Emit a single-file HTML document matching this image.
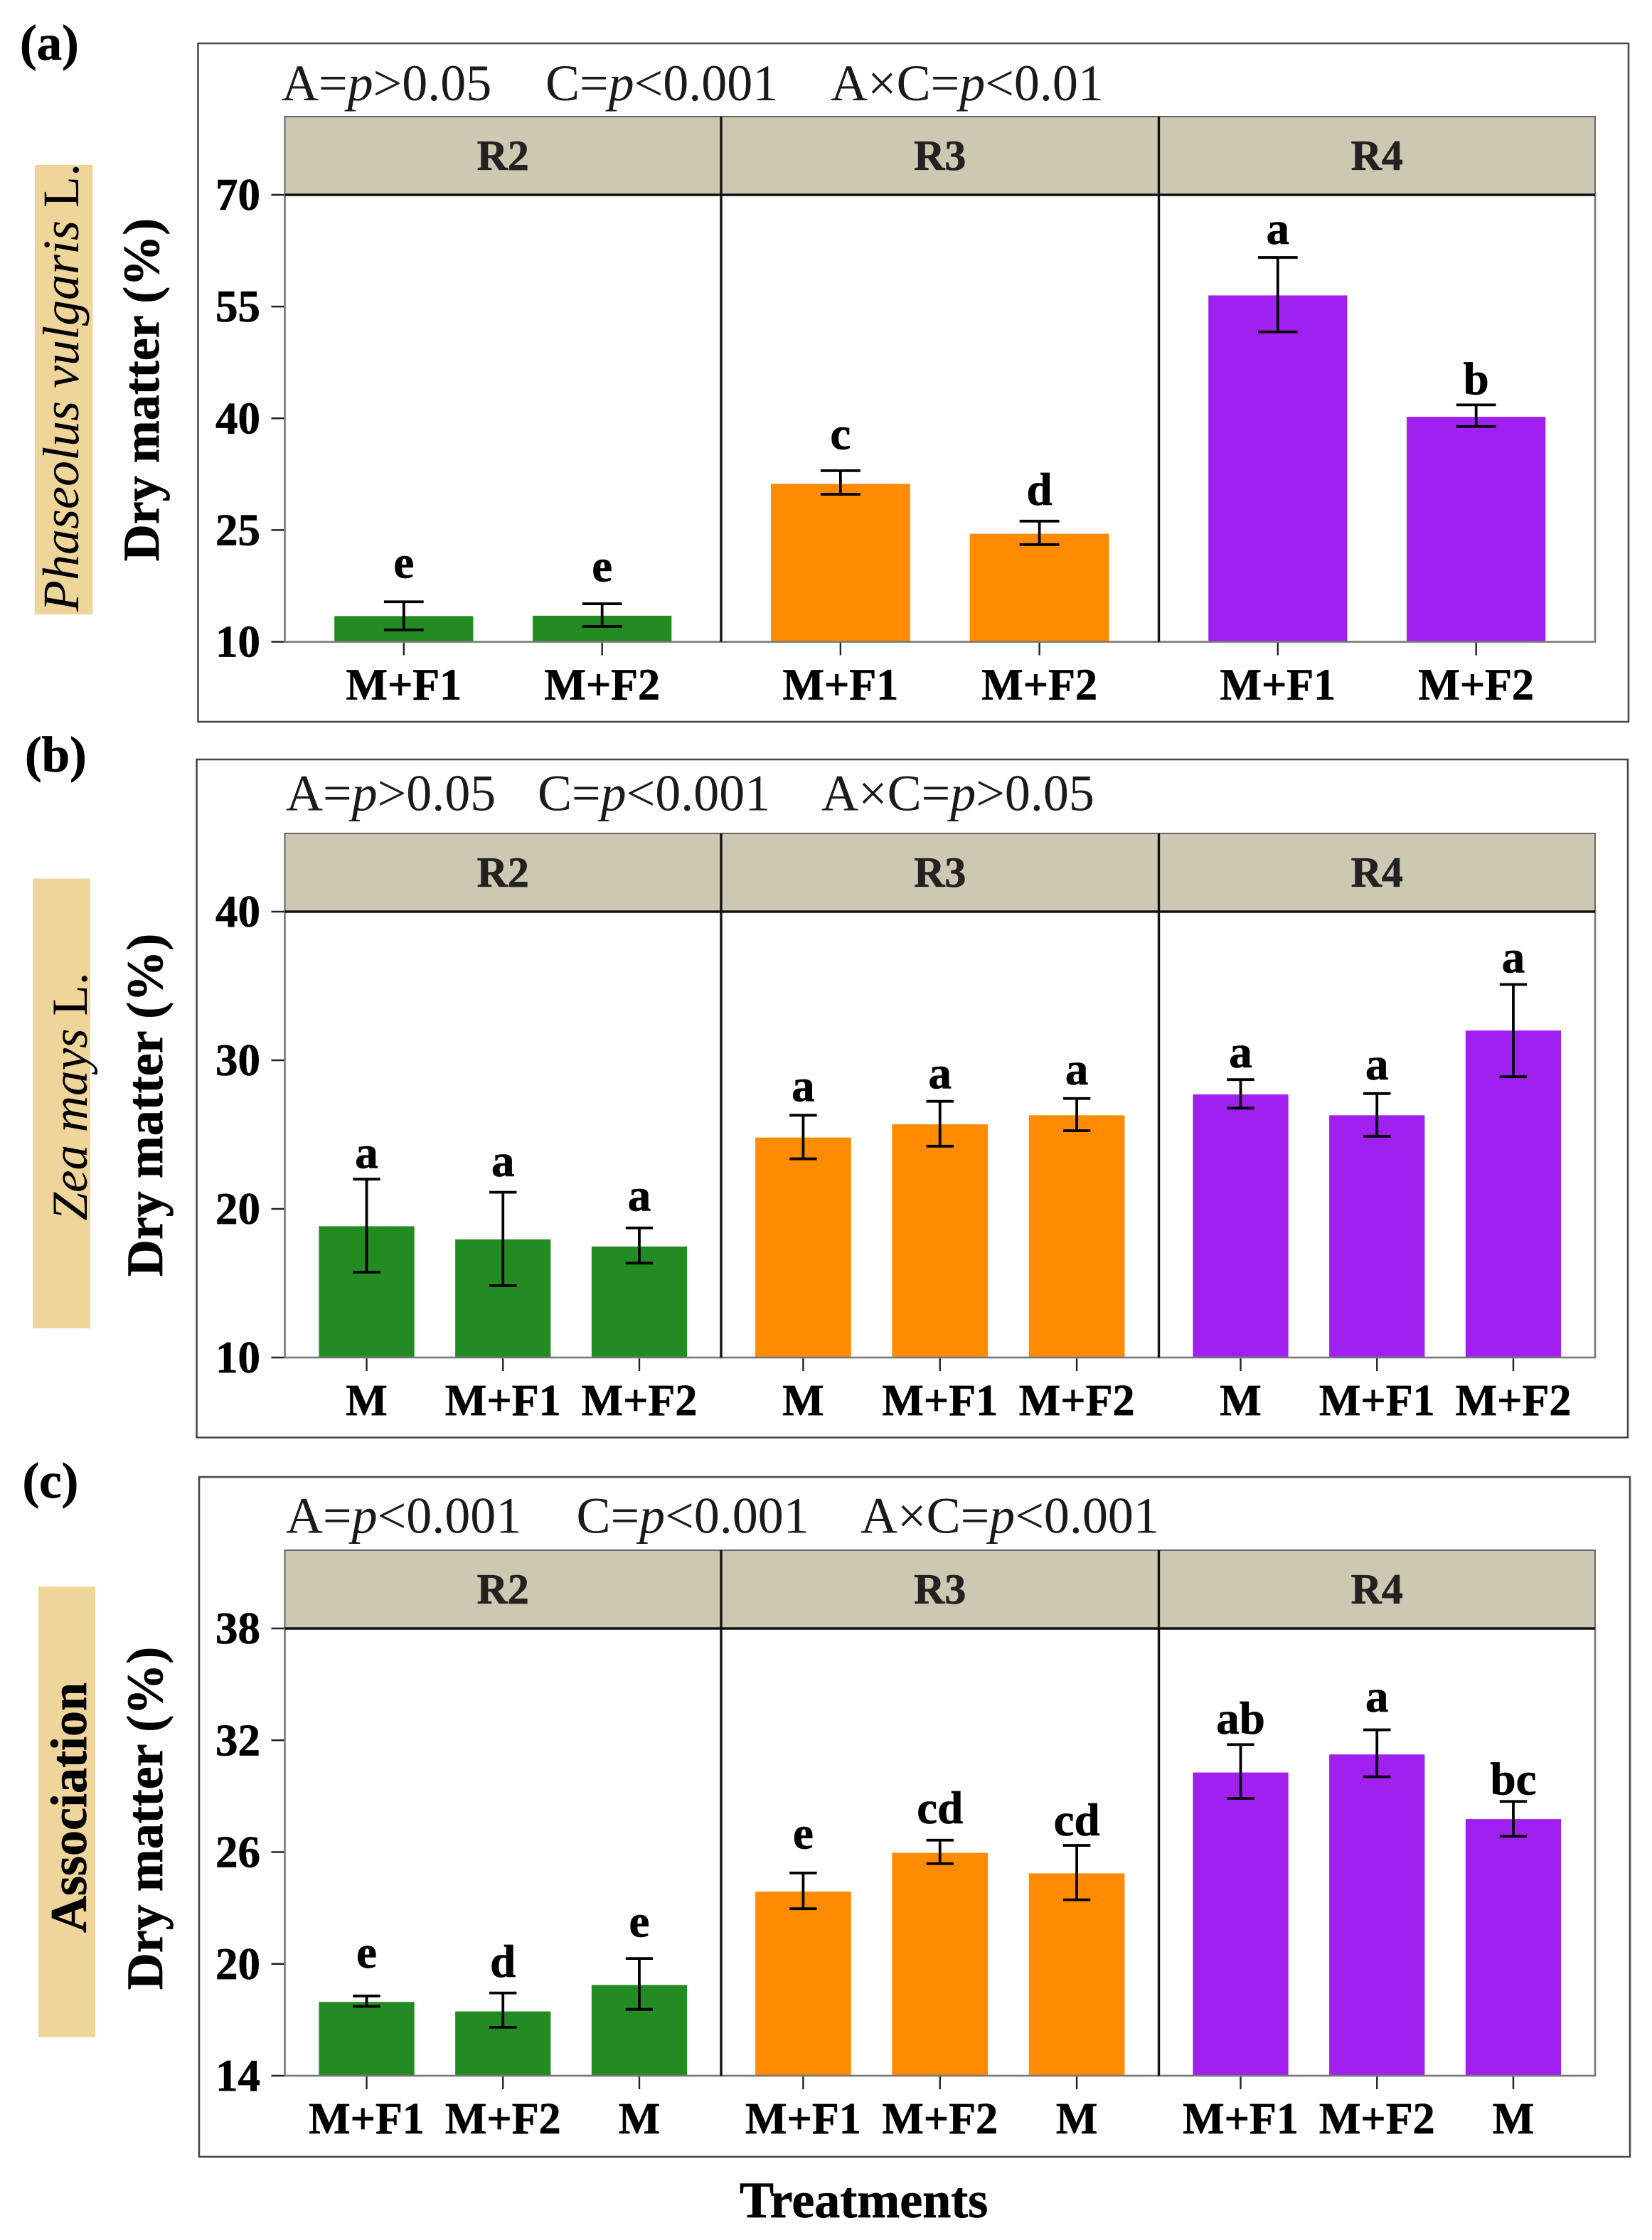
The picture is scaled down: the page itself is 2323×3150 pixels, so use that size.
<!DOCTYPE html>
<html lang="en">
<head>
<meta charset="utf-8">
<title>Dry matter by treatment and stage</title>
<style>
  html, body { margin: 0; padding: 0; background: #fff; }
  svg { display: block; font-family: "Liberation Serif", serif; }
  text { fill: #000; }
  .heavy { stroke: #000; stroke-width: 0.7px; }
  .stat { font-size: 72px; fill: #1a1a1a; }
  .axis-title { font-size: 72px; font-weight: bold; text-anchor: middle; }
  .panel-tag { font-size: 71px; font-weight: bold; }
</style>
</head>
<body>
<svg id="figure" xmlns="http://www.w3.org/2000/svg" width="2323" height="3150" viewBox="0 0 2323 3150">
  <rect x="0" y="0" width="2323" height="3150" fill="#ffffff"/>

  <!-- Panel (a) furniture -->
  <text class="panel-tag heavy" x="28" y="84">(a)</text>
  <rect x="278.5" y="61" width="2011.5" height="954" fill="none" stroke="#444" stroke-width="2.5"/>
  <text class="stat" x="396" y="141">A=<tspan font-style="italic">p</tspan>&gt;0.05</text>
  <text class="stat" x="767" y="141">C=<tspan font-style="italic">p</tspan>&lt;0.001</text>
  <text class="stat" x="1168" y="141">A×C=<tspan font-style="italic">p</tspan>&lt;0.01</text>
  <rect x="49" y="232" width="81.5" height="632" fill="#EFD59A"/>
  <text font-size="72" text-anchor="middle" transform="translate(110,545) rotate(-90)"><tspan font-style="italic">Phaseolus vulgaris</tspan> L.</text>
  <text class="axis-title heavy" transform="translate(223,548) rotate(-90)">Dry matter (%)</text>

  <!-- Panel (b) furniture -->
  <text class="panel-tag heavy" x="35" y="1085">(b)</text>
  <rect x="276.6" y="1068" width="2012.4" height="953.5" fill="none" stroke="#444" stroke-width="2.5"/>
  <text class="stat" x="402" y="1139.5">A=<tspan font-style="italic">p</tspan>&gt;0.05</text>
  <text class="stat" x="756" y="1139.5">C=<tspan font-style="italic">p</tspan>&lt;0.001</text>
  <text class="stat" x="1155" y="1139.5">A×C=<tspan font-style="italic">p</tspan>&gt;0.05</text>
  <rect x="46" y="1235.5" width="81" height="632.5" fill="#EFD59A"/>
  <text font-size="71" text-anchor="middle" transform="translate(122,1542) rotate(-90)"><tspan font-style="italic">Zea mays</tspan> L.</text>
  <text class="axis-title heavy" transform="translate(228,1554) rotate(-90)">Dry matter (%)</text>

  <!-- Panel (c) furniture -->
  <text class="panel-tag heavy" x="31.5" y="2106">(c)</text>
  <rect x="280" y="2077" width="2012" height="956" fill="none" stroke="#444" stroke-width="2.5"/>
  <text class="stat" x="402" y="2155.5">A=<tspan font-style="italic">p</tspan>&lt;0.001</text>
  <text class="stat" x="810.5" y="2155.5">C=<tspan font-style="italic">p</tspan>&lt;0.001</text>
  <text class="stat" x="1210" y="2155.5">A×C=<tspan font-style="italic">p</tspan>&lt;0.001</text>
  <rect x="54" y="2231" width="80" height="634" fill="#EFD59A"/>
  <text class="heavy" font-size="72" font-weight="bold" text-anchor="middle" transform="translate(121,2542) rotate(-90)">Association</text>
  <text class="axis-title heavy" transform="translate(228,2557) rotate(-90)">Dry matter (%)</text>

  <text class="heavy" font-size="72" font-weight="bold" x="1040" y="3118">Treatments</text>
  <g id="charts"></g>
</svg>

<script>
// ---- Chart data (facets: R2, R3, R4) ----
const facets = ['R2', 'R3', 'R4'];
const facetColors = ['#228B22', '#FF8C00', '#A020F0'];

// Panel (a) Phaseolus vulgaris
const categoriesA = ['M+F1', 'M+F2'];
const ticksA = [10, 25, 40, 55, 70];
const valuesA = [[13.45, 13.5], [31.2, 24.5], [56.5, 40.2]];
const errorHighA = [[15.37, 15.1], [32.97, 26.2], [61.6, 41.8]];
const errorLowA = [[11.6, 12.05], [29.8, 23.05], [51.6, 38.9]];
const lettersA = [['e', 'e'], ['c', 'd'], ['a', 'b']];
const letterLevelA = [[18.57, 18.12], [35.85, 28.36], [63.4, 43.2]];

// Panel (b) Zea mays
const categoriesB = ['M', 'M+F1', 'M+F2'];
const ticksB = [10, 20, 30, 40];
const valuesB = [[18.83, 17.95, 17.47], [24.8, 25.69, 26.3], [27.7, 26.3, 32.0]];
const errorHighB = [[22.0, 21.12, 18.72], [26.3, 27.24, 27.43], [28.7, 27.76, 35.1]];
const errorLowB = [[15.74, 14.84, 16.35], [23.37, 24.22, 25.26], [26.78, 24.89, 28.89]];
const lettersB = [['a', 'a', 'a'], ['a', 'a', 'a'], ['a', 'a', 'a']];
const letterLevelB = [[22.76, 22.2, 19.87], [27.24, 28.1, 28.37], [29.53, 28.7, 35.9]];

// Panel (c) Association
const categoriesC = ['M+F1', 'M+F2', 'M'];
const ticksC = [14, 20, 26, 32, 38];
const valuesC = [[17.96, 17.45, 18.87], [23.88, 25.96, 24.86], [30.27, 31.24, 27.77]];
const errorHighC = [[18.28, 18.44, 20.29], [24.88, 26.64, 26.36], [31.77, 32.56, 28.72]];
const errorLowC = [[17.72, 16.6, 17.56], [22.96, 25.38, 23.44], [28.88, 30.04, 26.85]];
const lettersC = [['e', 'd', 'e'], ['e', 'cd', 'cd'], ['ab', 'a', 'bc']];
const letterLevelC = [[19.8, 19.3, 21.46], [26.2, 27.54, 26.9], [32.35, 33.53, 29.1]];

const SVG_NS = 'http://www.w3.org/2000/svg';
const facetEdges = [400.5, 1014, 1629.5, 2243];

function node(parent, tag, attrs, text) {
  const el = document.createElementNS(SVG_NS, tag);
  for (const k in attrs) el.setAttribute(k, attrs[k]);
  if (text !== undefined) el.textContent = text;
  parent.appendChild(el);
  return el;
}

function drawChart(root, id, cfg) {
  const group = node(root, 'g', {});
  
  

  const lo = cfg.ticks[0];
  const hi = cfg.ticks[cfg.ticks.length - 1];
  const yScale = v => cfg.plotBottom - (v - lo) / (hi - lo) * (cfg.plotBottom - cfg.plotTop);
  const n = cfg.categories.length;
  const units = n + 0.2;
  const xScale = (f, i) => facetEdges[f] + (i + 0.6) / units * (facetEdges[f + 1] - facetEdges[f]);
  const unitWidth = f => (facetEdges[f + 1] - facetEdges[f]) / units;

  // y axis ticks and labels
  cfg.ticks.forEach(t => {
    const y = yScale(t);
    const tick = node(group, 'line', { x1: 381.5, x2: facetEdges[0], y1: y, y2: y, stroke: '#222', 'stroke-width': 2.4 });
    
    
    const label = node(group, 'text', { x: 366, y: y + 21, 'text-anchor': 'end', 'font-size': 63, 'font-weight': 'bold', class: 'heavy' }, String(t));
    
    
  });

  facets.forEach((facet, f) => {
    const left = facetEdges[f];
    const right = facetEdges[f + 1];

    // strip
    const strip = node(group, 'rect', { x: left, y: cfg.stripTop, width: right - left, height: cfg.plotTop - cfg.stripTop, fill: '#CDC8B1', stroke: '#666', 'stroke-width': 2 });
    
    
    const stripLabel = node(group, 'text', { x: (left + right) / 2, y: cfg.plotTop - 35, 'text-anchor': 'middle', 'font-size': 60, 'font-weight': 'bold', style: 'fill:#222;stroke:#222;stroke-width:0.7px' }, facet);
    
    

    // bars, error bars, letters, x ticks
    cfg.categories.forEach((cat, i) => {
      const cx = xScale(f, i);
      const barW = 0.7 * unitWidth(f);
      const capW = 0.2 * unitWidth(f);
      const top = yScale(cfg.values[f][i]);

      const bar = node(group, 'rect', { x: cx - barW / 2, y: top, width: barW, height: cfg.plotBottom - top, fill: facetColors[f] });
      
      

      const yh = yScale(cfg.errorHigh[f][i]);
      const yl = yScale(cfg.errorLow[f][i]);
      const err = node(group, 'path', { d: 'M' + (cx - capW / 2) + ' ' + yh + 'H' + (cx + capW / 2) + 'M' + cx + ' ' + yh + 'V' + yl + 'M' + (cx - capW / 2) + ' ' + yl + 'H' + (cx + capW / 2), fill: 'none', stroke: '#000', 'stroke-width': 3.8 });
      
      

      const letter = node(group, 'text', { x: cx, y: yScale(cfg.letterLevel[f][i]), 'text-anchor': 'middle', 'font-size': 65, 'font-weight': 'bold', class: 'heavy' }, cfg.letters[f][i]);
      
      

      const xt = node(group, 'line', { x1: cx, x2: cx, y1: cfg.plotBottom, y2: cfg.plotBottom + 19, stroke: '#222', 'stroke-width': 2.4 });
      
      

      const xl = node(group, 'text', { x: cx, y: cfg.plotBottom + 81, 'text-anchor': 'middle', 'font-size': 62, 'font-weight': 'bold', class: 'heavy' }, cat);
      
      
    });

    // facet panel border
    const border = node(group, 'rect', { x: left, y: cfg.plotTop, width: right - left, height: cfg.plotBottom - cfg.plotTop, fill: 'none', stroke: '#777', 'stroke-width': 2.6 });
    
    
  });

  // strip bottom line and facet dividers
  const stripLine = node(group, 'line', { x1: facetEdges[0], x2: facetEdges[3], y1: cfg.plotTop, y2: cfg.plotTop, stroke: '#111', 'stroke-width': 3.6 });
  
  
  [1, 2].forEach(k => {
    const divider = node(group, 'line', { x1: facetEdges[k], x2: facetEdges[k], y1: cfg.stripTop, y2: cfg.plotBottom, stroke: '#111', 'stroke-width': 3.4 });
    
    
  });
}

const chartsRoot = document.getElementById('charts');
drawChart(chartsRoot, 'a', { categories: categoriesA, ticks: ticksA, values: valuesA, errorHigh: errorHighA, errorLow: errorLowA, letters: lettersA, letterLevel: letterLevelA, stripTop: 164, plotTop: 274, plotBottom: 902.5 });
drawChart(chartsRoot, 'b', { categories: categoriesB, ticks: ticksB, values: valuesB, errorHigh: errorHighB, errorLow: errorLowB, letters: lettersB, letterLevel: letterLevelB, stripTop: 1172, plotTop: 1282, plotBottom: 1909 });
drawChart(chartsRoot, 'c', { categories: categoriesC, ticks: ticksC, values: valuesC, errorHigh: errorHighC, errorLow: errorLowC, letters: lettersC, letterLevel: letterLevelC, stripTop: 2180, plotTop: 2290, plotBottom: 2919 });
</script>
</body>
</html>
